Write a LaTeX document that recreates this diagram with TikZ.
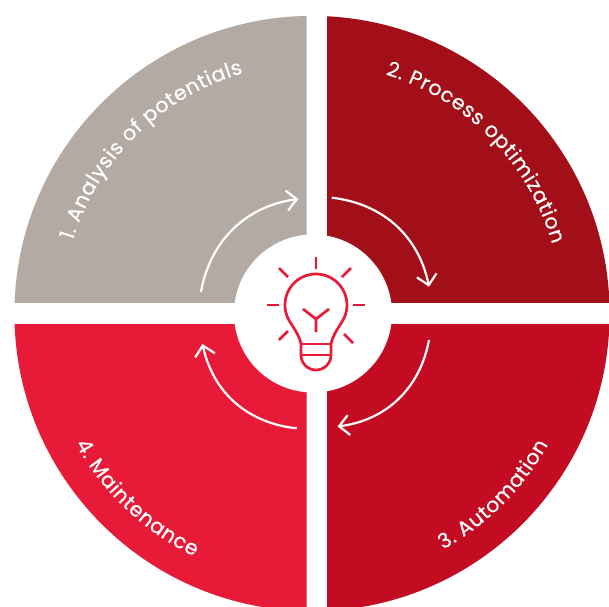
\documentclass[tikz,border=0pt]{standalone}
\usepackage{fontspec}
\usetikzlibrary{arrows.meta,decorations.text}
\setmainfont[FakeBold=0.4]{Poppins}
\definecolor{stone}{HTML}{B3AAA4}
\definecolor{darkred}{HTML}{A20F19}
\definecolor{midred}{HTML}{C30B21}
\definecolor{brightred}{HTML}{E71A38}
\newcommand{\ringfont}{\fontsize{20.5}{20.5}\selectfont}
\tikzset{
  ringtext/.style={decorate,decoration={text effects along path,text={#1},text align=center,
      text effects/.cd,text along path,character widths={font=\ringfont,inner xsep=0.32pt},
      characters={white,font=\ringfont}}},
  cyclearrow/.style={white,line width=2.2pt,bend left=36,-{Straight Barb[length=10pt,width=20pt,line width=2.2pt]}},
  bulbline/.style={brightred,line width=2.7pt}
}
\begin{document}
\begin{tikzpicture}[x=1pt,y=1pt]
  \useasboundingbox (-312,-292.5) rectangle (297,313.5);
  \clip (-312,-292.5) rectangle (297,313.5);

  % Four quarters of the ring
  \foreach \col/\xa/\ya/\xb/\yb in {stone/-320/10.7/-5.3/320, darkred/15.2/10.7/320/320,
      midred/15.2/-10.5/320/-320, brightred/-320/-10.5/-5.3/-320}{
    \begin{scope}
      \clip (\xa,\ya) rectangle (\xb,\yb);
      \fill[\col] (0,0) circle (297.6);
    \end{scope}
  }
  \fill[white] (1,0) circle (79);

  % Labels
  \path[ringtext={1. Analysis of potentials}] (165:250) arc (165:104:250);
  \path[ringtext={2. Process optimization}] (75:250) arc (75:14:250);
  \path[ringtext={3. Automation}] (-65:270) arc (-65:-25:270);
  \path[ringtext={4. Maintenance}] (206:270) arc (206:247:270);

  % Arrows between the quarters
  \coordinate (start1) at (-111,21.8);
  \coordinate (end1) at (-13.7,114.5);
  \coordinate (start2) at (19.7,115.8);
  \coordinate (end2) at (117,26.8);
  \coordinate (start3) at (117,-26.5);
  \coordinate (end3) at (25.5,-113);
  \coordinate (start4) at (-15.3,-114.8);
  \coordinate (end4) at (-109.5,-30.5);
  \foreach \i in {1,2,3,4}{
    \draw[cyclearrow] (start\i) to (end\i);
  }

  % Bulb
  \begin{scope}[shift={(4,8.5)}]
    \draw[bulbline,line join=round] (15,-39) .. controls (17,-30) and (21,-25) .. (26.8,-15.5)
      arc (-30:210:31) .. controls (-21,-25) and (-17,-30) .. (-15,-39)
      -- (-15,-50) arc (180:360:15) -- cycle;
    \draw[bulbline] (-15,-39) -- (15,-39);
    \draw[bulbline] (-15,-50) -- (15,-50);
    \draw[bulbline] (0,-27) -- (0,-14) -- (-13,-4);
    \draw[bulbline] (0,-14) -- (13,-4);
    % Rays
    \draw[bulbline] (0,36) -- (0,48);
    \draw[bulbline] (26,28) -- (35,37);
    \draw[bulbline] (37,0) -- (49,0);
    \draw[bulbline] (28,-29) -- (37,-38);
    \draw[bulbline] (-49,0) -- (-37,0);
    \draw[bulbline] (-28,28) -- (-37,37);
    \draw[bulbline] (-28,-26) -- (-37,-35);
  \end{scope}
\end{tikzpicture}
\end{document}
